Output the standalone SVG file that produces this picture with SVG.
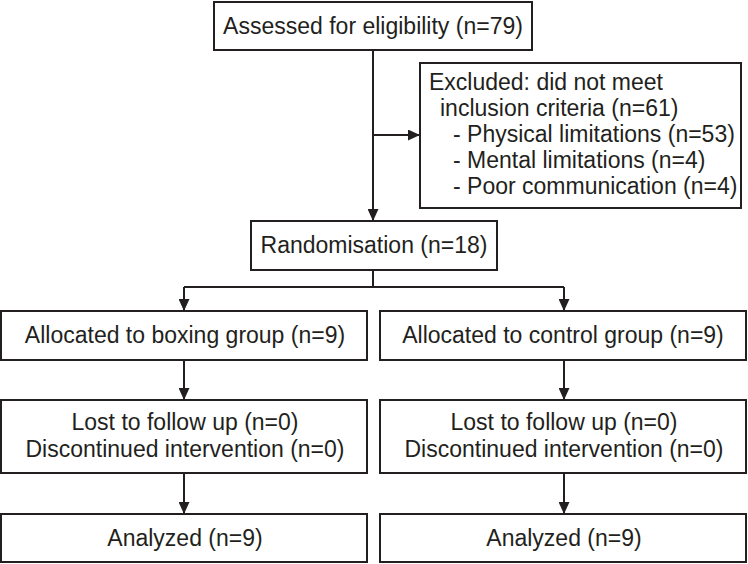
<svg xmlns="http://www.w3.org/2000/svg" width="748" height="564" viewBox="0 0 748 564">
<defs>
<marker id="ah" markerUnits="userSpaceOnUse" markerWidth="12" markerHeight="11" refX="12" refY="5.5" orient="auto">
<path d="M0,0 L12,5.5 L0,11 Z" fill="#231f20"/>
</marker>
<style>
.box{fill:#fff;stroke:#231f20;stroke-width:2}
.t{font-family:"Liberation Sans",Arial,sans-serif;font-size:23px;fill:#231f20}
.c{text-anchor:middle}
.ln{fill:none;stroke:#231f20;stroke-width:2}
</style>
</defs>
<rect width="748" height="564" fill="#fff"/>
<g id="connectors">
<path class="ln" d="M373,50 V221" marker-end="url(#ah)"/>
<path class="ln" d="M373,135 H420" marker-end="url(#ah)"/>
<path class="ln" d="M373,270 V287 M184,287 H564"/>
<path class="ln" d="M184,287 V311" marker-end="url(#ah)"/>
<path class="ln" d="M564,287 V311" marker-end="url(#ah)"/>
<path class="ln" d="M184,360 V400" marker-end="url(#ah)"/>
<path class="ln" d="M564,360 V400" marker-end="url(#ah)"/>
<path class="ln" d="M184,473 V514" marker-end="url(#ah)"/>
<path class="ln" d="M564,473 V514" marker-end="url(#ah)"/>
</g>
<g id="assessed">
<rect class="box" x="214" y="2" width="318" height="48"/>
<text class="t c" x="373" y="34">Assessed for eligibility (n=79)</text>
</g>
<g id="excluded">
<rect class="box" x="420" y="63" width="321" height="145"/>
<text class="t" x="429" y="90">Excluded: did not meet</text>
<text class="t" x="440" y="116">inclusion criteria (n=61)</text>
<text class="t" x="453" y="142">- Physical limitations (n=53)</text>
<text class="t" x="453" y="168">- Mental limitations (n=4)</text>
<text class="t" x="453" y="194">- Poor communication (n=4)</text>
</g>
<g id="randomisation">
<rect class="box" x="251" y="221" width="246" height="49"/>
<text class="t c" x="374" y="253">Randomisation (n=18)</text>
</g>
<g id="alloc-boxing">
<rect class="box" x="1" y="311" width="366" height="49"/>
<text class="t c" x="185" y="343">Allocated to boxing group (n=9)</text>
</g>
<g id="alloc-control">
<rect class="box" x="380" y="311" width="366" height="49"/>
<text class="t c" x="563" y="343">Allocated to control group (n=9)</text>
</g>
<g id="followup-boxing">
<rect class="box" x="1" y="400" width="366" height="73"/>
<text class="t c" x="185" y="430">Lost to follow up (n=0)</text>
<text class="t c" x="185" y="457">Discontinued intervention (n=0)</text>
</g>
<g id="followup-control">
<rect class="box" x="380" y="400" width="366" height="73"/>
<text class="t c" x="564" y="430">Lost to follow up (n=0)</text>
<text class="t c" x="564" y="457">Discontinued intervention (n=0)</text>
</g>
<g id="analyzed-boxing">
<rect class="box" x="1" y="514" width="366" height="48"/>
<text class="t c" x="185" y="546">Analyzed (n=9)</text>
</g>
<g id="analyzed-control">
<rect class="box" x="380" y="514" width="366" height="48"/>
<text class="t c" x="564" y="546">Analyzed (n=9)</text>
</g>
</svg>
